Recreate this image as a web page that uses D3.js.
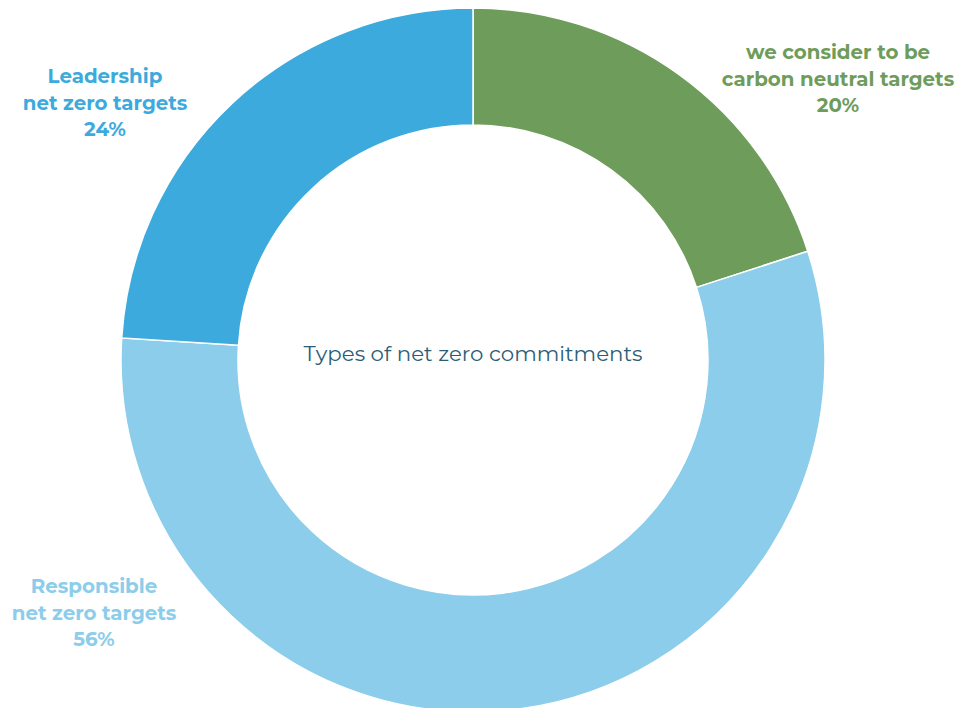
<!DOCTYPE html>
<html>
<head>
<meta charset="utf-8">
<script src="https://cdn.jsdelivr.net/npm/d3@7"></script>
<style>
  html, body { margin: 0; padding: 0; background: #ffffff; }
  svg { display: block; }
</style>
</head>
<body>
<svg id="chart" width="957" height="708"></svg>
<script>
const categories = ["we consider to be carbon neutral targets", "Responsible net zero targets", "Leadership net zero targets"];
const values = [20, 56, 24];
const colors = ["#6e9c5a", "#8bcdea", "#3caadc"];
const labelLines = [
  ["we consider to be", "carbon neutral targets", "20%"],
  ["Responsible", "net zero targets", "56%"],
  ["Leadership", "net zero targets", "24%"]
];
const labelAnchors = [[838, 59], [94, 593], [105, 83]];
const centerTitle = "Types of net zero commitments";

const svg = d3.select("#chart");
const cx = 473, cy = 360, outerR = 352, innerR = 235;

const data = categories.map((c, i) => ({ name: c, value: values[i], color: colors[i], lines: labelLines[i], anchor: labelAnchors[i] }));

const pie = d3.pie().value(d => d.value).sort(null);
const arc = d3.arc().innerRadius(innerR).outerRadius(outerR);

const g = svg.append("g").attr("transform", `translate(${cx},${cy})`);
g.selectAll("path")
  .data(pie(data))
  .join("path")
  .attr("d", arc)
  .attr("fill", d => d.data.color)
  .attr("stroke", "#ffffff")
  .attr("stroke-width", 1.5);

svg.append("text")
  .attr("x", cx)
  .attr("y", 361)
  .attr("text-anchor", "middle")
  .attr("font-family", "Montserrat, 'Open Sans', Lato, sans-serif")
  .attr("font-size", 21.3)
  .attr("fill", "#2b5d77")
  .text(centerTitle);

data.forEach(d => {
  const t = svg.append("text")
    .attr("text-anchor", "middle")
    .attr("font-family", "Montserrat, 'Open Sans', Lato, sans-serif")
    .attr("font-weight", 700)
    .attr("font-size", 19.8)
    .attr("fill", d.color);
  d.lines.forEach((line, j) => {
    t.append("tspan")
      .attr("x", d.anchor[0])
      .attr("y", d.anchor[1] + j * 26.5)
      .text(line);
  });
});
</script>
</body>
</html>
